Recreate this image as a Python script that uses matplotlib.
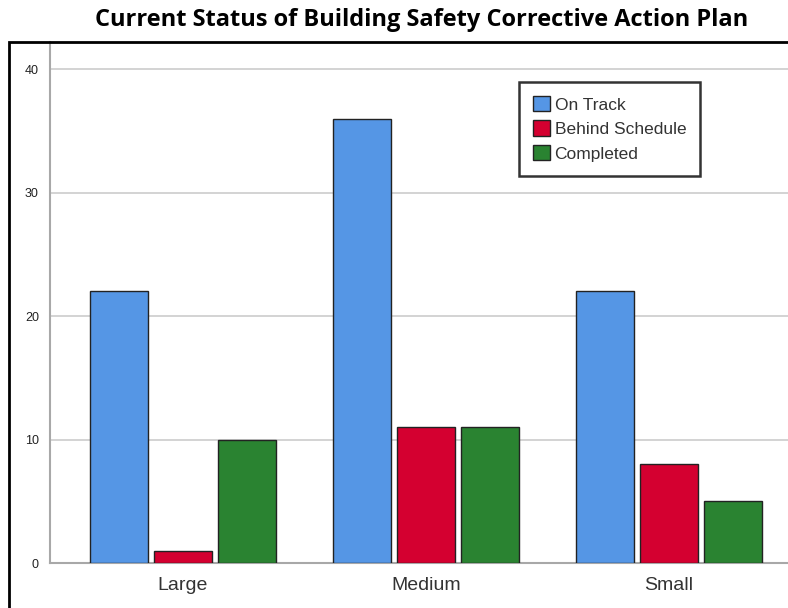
import matplotlib.pyplot as plt
import numpy as np
from matplotlib.patches import Rectangle

# data
categories = ['Large', 'Medium', 'Small']
on_track = [22, 36, 22]
behind = [1, 11, 8]
completed = [10, 11, 5]
series_names = ['On Track', 'Behind Schedule', 'Completed']
colors = ['#5596e5', '#d40030', '#2a8331']

plt.rcParams['font.family'] = ['Liberation Sans', 'DejaVu Sans']

fig = plt.figure(figsize=(7.88, 6.08), dpi=100)

# outer frame (only top/left visible, like the original export)
fig.patches.append(Rectangle((9 / 788, -0.1), 1.2, (608 - 42) / 608 + 0.1,
                             transform=fig.transFigure, fill=False,
                             edgecolor='black', linewidth=2, zorder=0))

fig.text(0.535, 1 - 20 / 608, 'Current Status of Building Safety Corrective Action Plan',
         ha='center', va='center', fontsize=17, fontweight='bold',
         family=['Open Sans', 'DejaVu Sans'])

ax = fig.add_axes([50 / 788, 45 / 608, 738 / 788, 521 / 608])

x = np.arange(len(categories))
w = 58 / 243
step = 64 / 243
for i, (vals, name, c) in enumerate(zip([on_track, behind, completed], series_names, colors)):
    ax.bar(x + (i - 1) * step, vals, width=w, color=c, edgecolor='#222222',
           linewidth=1, label=name, zorder=3)

ax.set_xlim(-0.547, 2.49)
ax.set_ylim(0, 42.2)
ax.set_yticks([0, 10, 20, 30, 40])
ax.set_xticks(x)
ax.set_xticklabels(categories, fontsize=14, color='#333333')
ax.tick_params(axis='y', labelsize=9, length=0, pad=8, labelcolor='#222222')
ax.tick_params(axis='x', length=0, pad=10)
ax.grid(axis='y', color='#cccccc', linewidth=1.2, zorder=0)

for s in ['top', 'right']:
    ax.spines[s].set_visible(False)
ax.spines['left'].set_color('#a8a8a8')
ax.spines['left'].set_linewidth(1.5)
ax.spines['bottom'].set_color('#a8a8a8')
ax.spines['bottom'].set_linewidth(1.5)

leg = ax.legend(loc='upper left', bbox_to_anchor=((519 - 50) / 738, 1 - (82 - 42) / 521),
                fontsize=12.5, frameon=True, fancybox=False, handlelength=1.0,
                handleheight=1.0, handletextpad=0.25, labelspacing=0.45,
                borderpad=0.8, borderaxespad=0)
leg.get_frame().set_edgecolor('black')
leg.get_frame().set_linewidth(1.8)
for t in leg.get_texts():
    t.set_color('#333333')

fig.savefig('out.png', dpi=100)
